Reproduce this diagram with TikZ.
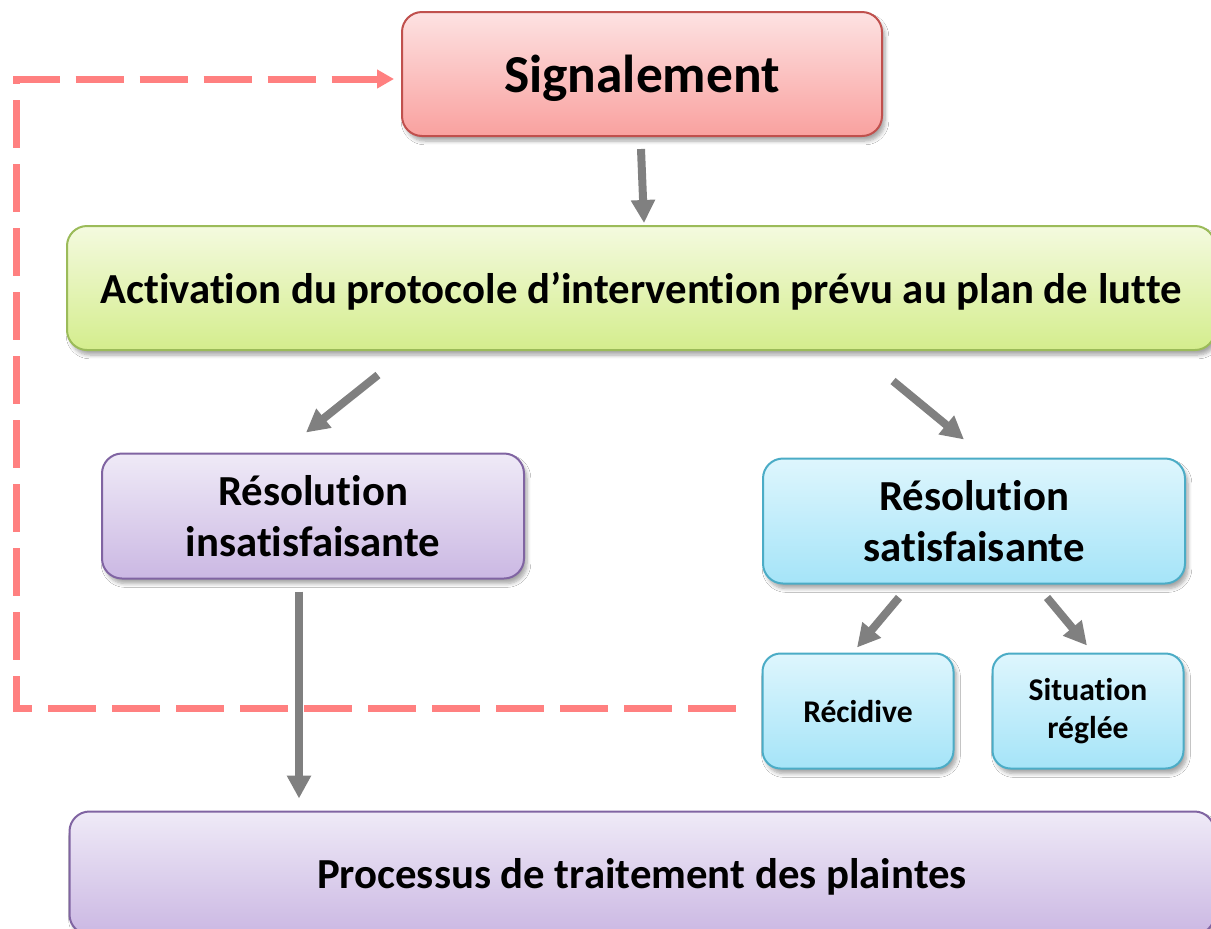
\documentclass[tikz,border=0pt]{standalone}
\usepackage{fontspec}
\setmainfont{Carlito}[Ligatures=NoCommon]
\usetikzlibrary{arrows.meta,calc,shadows.blur}

\definecolor{sigline}{HTML}{C0504D}
\definecolor{sigtop}{HTML}{FDE2E2}
\definecolor{sigbot}{HTML}{F9A19F}
\definecolor{actline}{HTML}{9BBB59}
\definecolor{acttop}{HTML}{F4FADF}
\definecolor{actbot}{HTML}{D4ED8D}
\definecolor{purline}{HTML}{8064A2}
\definecolor{purtop}{HTML}{EFEAF7}
\definecolor{purbot}{HTML}{CBB8E3}
\definecolor{cyaline}{HTML}{4BACC6}
\definecolor{cyatop}{HTML}{DEF6FD}
\definecolor{cyabot}{HTML}{A5E4F8}
\definecolor{arrowgray}{HTML}{808080}
\definecolor{loopred}{HTML}{FF8080}

\begin{document}
\begin{tikzpicture}[x=0.5pt,y=-0.5pt,
  box_node/.style={rounded corners=10pt,line width=1pt,align=center,inner sep=0pt,
    font=\bfseries\fontsize{21.4}{25.5}\selectfont,
    blur shadow={shadow xshift=1.5pt,shadow yshift=-2.5pt,shadow blur steps=6,shadow opacity=35}},
  red_node/.style={box_node,draw=sigline,top color=sigtop,bottom color=sigbot},
  green_node/.style={box_node,draw=actline,top color=acttop,bottom color=actbot},
  purple_node/.style={box_node,draw=purline,top color=purtop,bottom color=purbot},
  cyan_node/.style={box_node,draw=cyaline,top color=cyatop,bottom color=cyabot},
  small_node/.style={cyan_node,rounded corners=9pt,minimum width=95.5pt,minimum height=57.5pt,
    font=\bfseries\fontsize{15.8}{19}\selectfont},
  one_line/.style={text depth=0pt},
  gray_arrow/.style={draw=arrowgray,line width=4pt,-{Triangle[width=11.5pt,length=11.5pt]}},
  loop_line/.style={draw=loopred,line width=3.5pt,dash pattern=on 24pt off 8pt,
    -{Triangle[width=9pt,length=8.5pt]}}]

    \path[use as bounding box,fill=white] (0,0) rectangle (1211,928);

    \node[red_node,one_line,minimum width=240pt,minimum height=62pt,font=\bfseries\fontsize{26.7}{30}\selectfont] (sig) at (642,74) {Signalement};
    \node[green_node,one_line,minimum width=574pt,minimum height=62pt] (act) at (641,288) {Activation du protocole d’intervention prévu au plan de lutte};
    \node[purple_node,minimum width=211pt,minimum height=62.5pt] (insat) at (313,516) {Résolution\\insatisfaisante};
    \node[cyan_node,minimum width=211pt,minimum height=62.5pt] (sat) at (974,521) {Résolution\\satisfaisante};
    \node[small_node,one_line] (rec) at (858,711) {Récidive};
    \node[small_node] (sit) at (1088,711) {Situation\\réglée};
    \node[purple_node,one_line,minimum width=572.5pt,minimum height=61.5pt] (proc) at (642,873) {Processus de traitement des plaintes};

    \draw[gray_arrow] ($(sig.south)+(-1,12)$) -- ($(act.north)+(3,-2)$);
    \draw[gray_arrow] ($(act.south)+(-263,24)$) -- ($(insat.north)+(-7,-20)$);
    \draw[gray_arrow] ($(act.south)+(252,30)$) -- ($(sat.north)+(-10,-18)$);
    \draw[gray_arrow] ($(sat.south)+(-75,13)$) -- ($(rec.north)+(-1,-5)$);
    \draw[gray_arrow] ($(sat.south)+(73,13)$) -- ($(sit.north)+(-1,-7)$);
    \draw[gray_arrow] ($(insat.south)+(-14,12)$) -- ($(proc.north)+(-343,-12)$);

    % retour vers le signalement
    \coordinate (corner) at (16,79);
    \draw[loop_line] ($(rec.west)+(-26,-3)$) -| (corner) -- ($(sig.west)+(-7,5)$);

\end{tikzpicture}
\end{document}
